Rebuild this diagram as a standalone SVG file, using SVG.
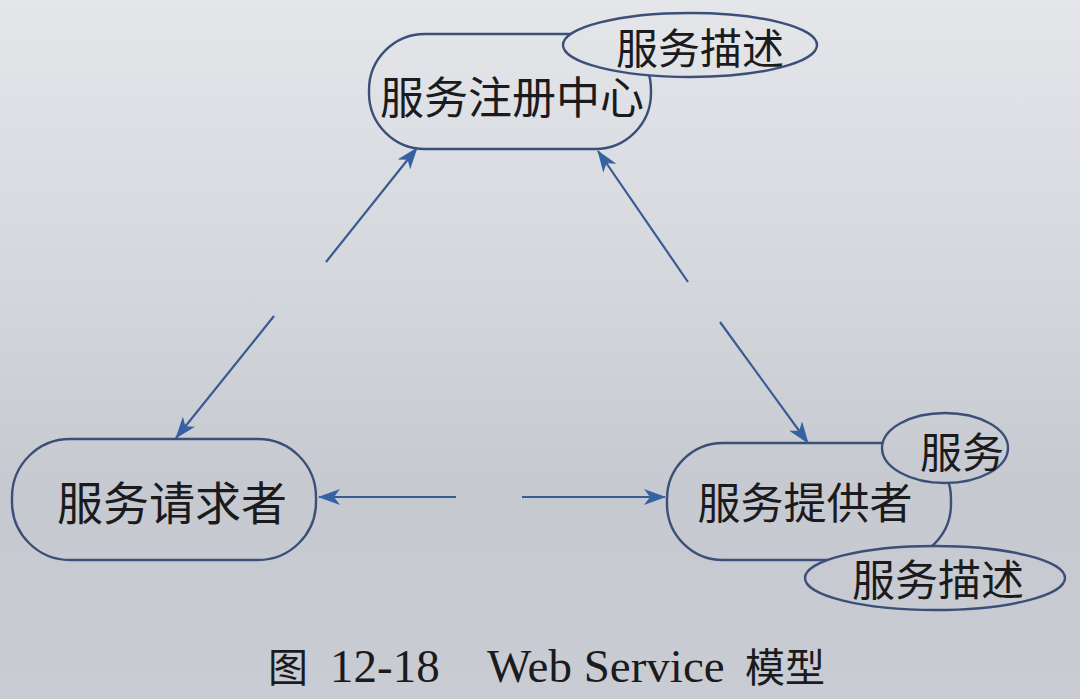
<svg xmlns="http://www.w3.org/2000/svg" width="1080" height="699" viewBox="0 0 1080 699">
  <defs>
    <linearGradient id="paper" gradientUnits="userSpaceOnUse" x1="0" y1="0" x2="0" y2="699">
      <stop offset="0" stop-color="#e4e6ea"/>
      <stop offset="0.35" stop-color="#d6d9de"/>
      <stop offset="0.7" stop-color="#c6cad0"/>
      <stop offset="1" stop-color="#c9ccd2"/>
    </linearGradient>
    <marker id="ah" viewBox="0 0 22 16" refX="21" refY="8" markerWidth="22" markerHeight="16" markerUnits="userSpaceOnUse" orient="auto">
      <path d="M0,0 L22,8 L0,16 L6,8 Z" fill="#3562a3"/>
    </marker>
    <style>
      .node { fill: url(#paper); stroke: #3b4f78; stroke-width: 2.4; }
      .lbl { font-family: "Noto Sans CJK SC", "Noto Sans", sans-serif; fill: #1b1b1d; text-anchor: middle; dominant-baseline: central; }
      .conn line { stroke: #3a5a92; stroke-width: 2.2; marker-end: url(#ah); }
      .cap { font-family: "Liberation Serif", "Noto Sans CJK SC", serif; fill: #1b1b1d; font-size: 47px; }
      .capcjk { font-family: "Noto Sans CJK SC", serif; fill: #1b1b1d; font-size: 40px; }
    </style>
  </defs>
  <rect x="0" y="0" width="1080" height="699" fill="url(#paper)"/>

  <g id="registry">
    <rect class="node" x="369" y="34" width="282" height="115" rx="56" ry="56"/>
    <text class="lbl" x="512" y="95" font-size="44">服务注册中心</text>
  </g>
  <g id="registry-desc">
    <ellipse class="node" cx="690" cy="45" rx="127" ry="32"/>
    <text class="lbl" x="700" y="45" font-size="42">服务描述</text>
  </g>

  <g id="requester">
    <rect class="node" x="12" y="439" width="304" height="121" rx="58" ry="58"/>
    <text class="lbl" x="172" y="500" font-size="46">服务请求者</text>
  </g>

  <g id="provider">
    <rect class="node" x="667" y="443" width="284" height="117" rx="56" ry="56"/>
    <text class="lbl" x="805" y="500" font-size="43">服务提供者</text>
  </g>
  <g id="provider-service">
    <ellipse class="node" cx="945" cy="448" rx="63" ry="35"/>
    <text class="lbl" x="962" y="449" font-size="42">服务</text>
  </g>
  <g id="provider-desc">
    <ellipse class="node" cx="935" cy="578" rx="130" ry="32"/>
    <text class="lbl" x="938" y="577" font-size="43">服务描述</text>
  </g>

  <g id="connectors" class="conn">
    <line x1="326" y1="262" x2="417" y2="148"/>
    <line x1="688" y1="282" x2="598" y2="151"/>
    <line x1="274" y1="316" x2="176" y2="438"/>
    <line x1="720" y1="322" x2="808" y2="443"/>
    <line x1="456" y1="497" x2="319" y2="497"/>
    <line x1="522" y1="497" x2="665" y2="497"/>
  </g>

  <g id="caption">
    <text class="capcjk" x="268" y="682">图</text>
    <text class="cap" x="330" y="682">12-18</text>
    <text class="cap" x="487" y="682">Web Service</text>
    <text class="capcjk" x="745" y="682">模型</text>
  </g>
</svg>
